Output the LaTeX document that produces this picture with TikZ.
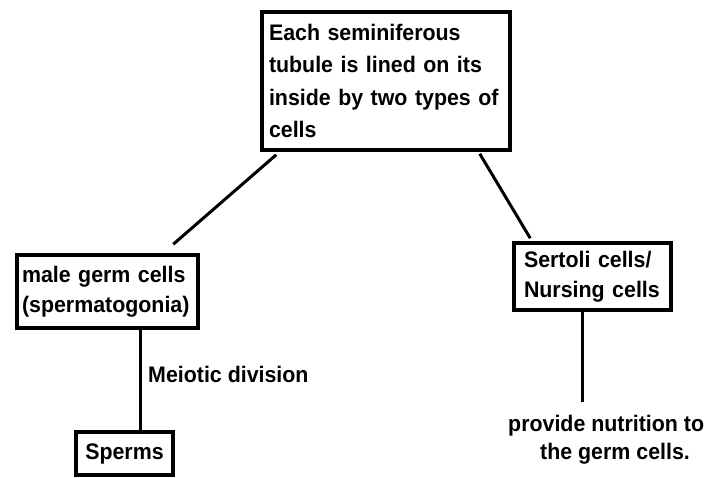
\documentclass[tikz,border=0pt]{standalone}
\usepackage{fontspec}
\setmainfont[FakeStretch=0.95]{Liberation Sans}
\usetikzlibrary{calc}
\begin{document}
\begin{tikzpicture}[x=1pt,y=-1pt,
  box/.style={draw,line width=3.5pt,inner xsep=0pt,inner ysep=0pt,align=left},
  boldtxt/.style={font=\bfseries\fontsize{22.5}{#1}\selectfont},
  link/.style={line width=3pt},
  lbl/.style={inner sep=0pt}]
\useasboundingbox (0,0) rectangle (710,478);

% boxes
\node[box,boldtxt=32.5,minimum width=248pt,minimum height=138pt,text width=234pt]
  (top) at (386,81) {Each seminiferous\\tubule is lined on its\\inside by two types of\\cells};
\node[box,boldtxt=30,minimum width=181pt,minimum height=73pt,text width=171pt]
  (germ) at (107.5,291.5) {male germ cells\\(spermatogonia)};
\node[box,boldtxt=30,minimum width=157pt,minimum height=67pt,text width=137pt]
  (sert) at (592.5,276.5) {Sertoli cells/\\Nursing cells};
\node[box,boldtxt=30,minimum width=97pt,minimum height=43pt,align=center]
  (sperm) at (124.5,453.5) {Sperms};

% free labels
\node[lbl,boldtxt=30,anchor=base west] (meio) at (148,383) {Meiotic division};
\node[lbl,boldtxt=28,anchor=west,align=left] (nutr) at (508,440)
  {provide nutrition to\\\hspace*{32pt}the germ cells.};

% connectors
\draw[link] ([shift={(16,3)}]top.south west) -- ([shift={(158,-9)}]germ.north west);
\draw[link] ([shift={(-32,2)}]top.south east) -- ([shift={(18,-3)}]sert.north west);
\draw[link] ([xshift=32.5pt]germ.south) coordinate (g) -- (g |- sperm.north);
\draw[link,shorten >=13pt] ([xshift=-10.5pt]sert.south) coordinate (s) -- (s |- nutr.north);
\end{tikzpicture}
\end{document}
